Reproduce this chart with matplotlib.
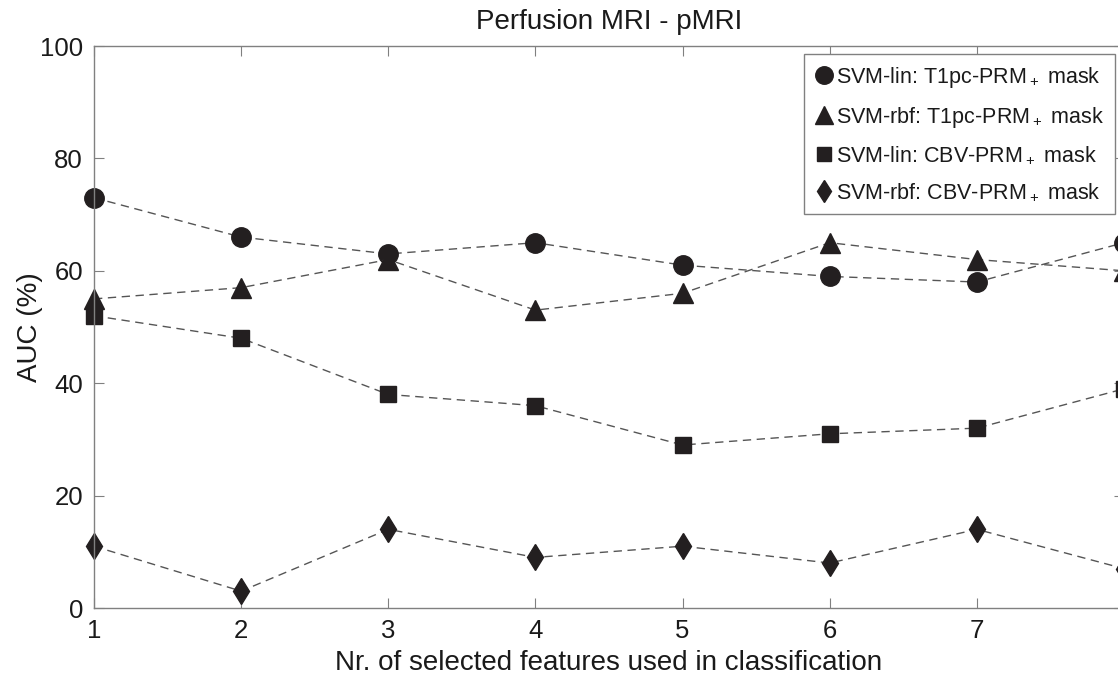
import numpy as np
import matplotlib
matplotlib.use("Agg")
import matplotlib.pyplot as plt

plt.rcParams['font.family'] = ['Liberation Sans', 'DejaVu Sans']
plt.rcParams['mathtext.fontset'] = 'custom'
plt.rcParams['mathtext.rm'] = 'Liberation Sans'
plt.rcParams['mathtext.default'] = 'regular'

# number of selected features
n_feat = [1, 2, 3, 4, 5, 6, 7, 8]
# the 8 label falls outside the cropped figure
xtick_labels = ['1', '2', '3', '4', '5', '6', '7', '']

# AUC (%) per classifier / mask
lin_t1pc = [73, 66, 63, 65, 61, 59, 58, 65]
rbf_t1pc = [55, 57, 62, 53, 56, 65, 62, 60]
lin_cbv = [52, 48, 38, 36, 29, 31, 32, 39]
rbf_cbv = [11, 3, 14, 9, 11, 8, 14, 7]

labels = ['SVM-lin: T1pc-PRM$_+$ mask',
          'SVM-rbf: T1pc-PRM$_+$ mask',
          'SVM-lin: CBV-PRM$_+$ mask',
          'SVM-rbf: CBV-PRM$_+$ mask']

fig = plt.figure(figsize=(11.18, 6.8), dpi=100)
ax = fig.add_axes([94/1118, 72/680, 1030/1118, 562/680])

mk = dict(color='#555555', linestyle=(0, (6, 4)), linewidth=1.0,
          markerfacecolor='#231f20', markeredgecolor='#231f20', clip_on=False)
ax.plot(n_feat, lin_t1pc, marker='o', markersize=14, label=labels[0], **mk)
ax.plot(n_feat, rbf_t1pc, marker='^', markersize=15, label=labels[1], **mk)
ax.plot(n_feat, lin_cbv, marker='s', markersize=11, label=labels[2], **mk)
ax.plot(n_feat, rbf_cbv, marker='d', markersize=13, label=labels[3], **mk)

ax.set_xlim(1, 8)
ax.set_ylim(0, 100)
ax.set_xticks(n_feat)
ax.set_xticklabels(xtick_labels)
ax.set_yticks([0, 20, 40, 60, 80, 100])
ax.tick_params(direction='in', length=7, width=0.8, color='#808080',
               labelsize=18.5, labelcolor='#1a1a1a', top=True, right=True, pad=8)
for s in ax.spines.values():
    s.set_color('#808080')
    s.set_linewidth(1.0)

ax.set_title('Perfusion MRI - pMRI', fontsize=20, color='#1a1a1a', pad=12)
ax.set_xlabel('Nr. of selected features used in classification', fontsize=20, color='#1a1a1a', labelpad=5)
ax.set_ylabel('AUC (%)', fontsize=20, color='#1a1a1a', labelpad=-2)

leg = ax.legend(loc='upper right', bbox_to_anchor=(1021/1030, 1 - 8/562), fontsize=15.5,
                frameon=True, fancybox=False, edgecolor='#808080', handlelength=0.9,
                handletextpad=0.1, borderpad=0.5, labelspacing=0.7, borderaxespad=0,
                framealpha=1, markerscale=0.9)
for line in leg.get_lines():
    line.set_linestyle('none')
leg.get_frame().set_linewidth(1.0)
for t in leg.get_texts():
    t.set_color('#1a1a1a')

fig.savefig('out.png', dpi=100)
